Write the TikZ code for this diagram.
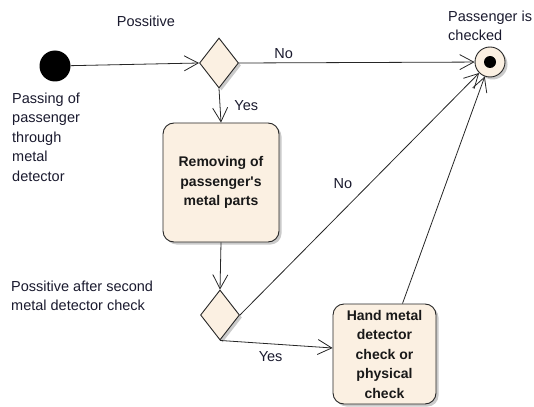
\documentclass[tikz,border=0pt]{standalone}
\usepackage{fontspec}
\setmainfont{Liberation Sans}
\usetikzlibrary{shapes.geometric,arrows.meta,shadows}
\definecolor{beige}{HTML}{FBF0E2}
\definecolor{txt}{HTML}{1A1A2E}
\begin{document}
\begin{tikzpicture}[x=1pt,y=-1pt,
  lbl/.style={text=txt,font=\fontsize{14.5}{19.5}\selectfont,inner sep=0pt},
  shd/.style={drop shadow={shadow xshift=2.5pt,shadow yshift=-2.5pt,fill=black!35,opacity=0.6}},
  actbox/.style={draw=black!85,line width=0.9pt,fill=beige,rounded corners=11pt,shd,
     font=\bfseries\fontsize{14}{19.5}\selectfont,align=center,inner sep=0pt,text=black!90},
  dec/.style={draw=black!85,line width=0.9pt,fill=beige,diamond,inner sep=0pt,
     minimum width=39pt,minimum height=50pt,shd},
  flow/.style={draw=black!85,line width=0.8pt,-{Straight Barb[length=14pt,width=15pt,line width=0.8pt]}}]
\useasboundingbox (0,0) rectangle (534,406);
% nodes
\node[circle,fill=black,minimum size=31pt,inner sep=0pt] (start) at (55,66) {};
\node[dec] (d1) at (219,63) {};
\node[circle,draw=black!85,line width=0.9pt,fill=beige,minimum size=30pt,inner sep=0pt,shd] (fin) at (490,62) {};
\node[circle,fill=black,minimum size=12pt,inner sep=0pt] (findot) at (fin) {};
\node[actbox,minimum width=116pt,minimum height=119pt] (b1) at (221,182.5)
  {Removing of\\passenger\textquotesingle s\\metal parts};
\node[dec] (d2) at (220,315) {};
\node[actbox,minimum width=103pt,minimum height=100pt] (b2) at (384.5,354)
  {Hand metal\\detector\\check or\\physical\\check};
% labels
\node[lbl] (lpos) at (146,21) {Possitive};
\node[lbl,align=left,anchor=west] (lpass) at (12,137) {Passing of\\passenger\\through\\metal\\detector};
\node[lbl,align=left,anchor=west] (lchk) at (448,26) {Passenger is\\checked};
\node[lbl,align=left,anchor=west] (lpos2) at (11,296) {Possitive after second\\metal detector check};
% connectors
\draw[flow] (start) -- (d1.west);
\draw[flow] (d1.east) -- node[lbl,pos=0.19,above=4pt] (lno1) {No} (fin);
\draw[flow] (d1.south) -- node[lbl,right=14pt] (lyes1) {Yes} (b1.north);
\draw[flow] (b1.south) -- (d2.north);
\draw[flow] (d2.east) -- node[lbl,pos=0.43,above=22pt] (lno2) {No} (fin);
\draw[flow] (d2.south) -- node[lbl,pos=0.45,below=7pt] (lyes2) {Yes} ([yshift=6pt]b2.west);
\draw[flow] ([xshift=18pt]b2.north) -- (fin);
\end{tikzpicture}
\end{document}
